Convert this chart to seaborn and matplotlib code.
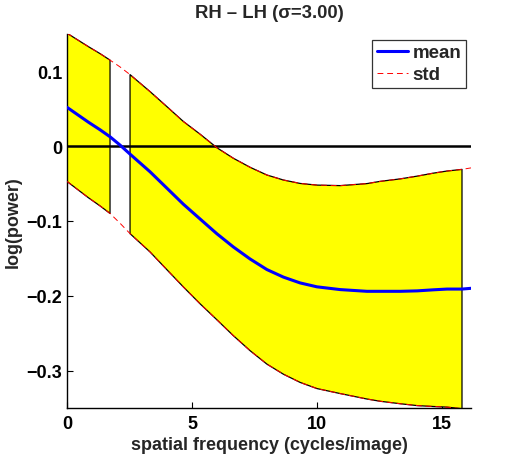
import numpy as np
import pandas as pd
import matplotlib
matplotlib.use("Agg")
import matplotlib.pyplot as plt
import seaborn as sns

# spatial frequency (cycles/image)
freq = [0.0, 0.86, 1.32, 1.72, 2.12, 2.52, 3.32, 3.99, 4.65, 5.32, 5.99, 6.65,
        7.32, 7.99, 8.65, 9.32, 9.99, 10.92, 11.99, 12.52, 13.32, 14.0, 14.65,
        15.19, 15.79, 16.15]
# mean log(power) difference RH - LH
mean = [0.052, 0.032, 0.022, 0.0126, 0.0015, -0.0106, -0.0342, -0.056, -0.0775,
        -0.0973, -0.117, -0.1347, -0.1508, -0.1649, -0.175, -0.1828, -0.188,
        -0.1917, -0.194, -0.194, -0.194, -0.1934, -0.192, -0.191, -0.191, -0.190]
# standard deviation
std = [0.0991, 0.101, 0.1018, 0.1025, 0.1045, 0.1063, 0.1072, 0.109, 0.1106,
       0.1134, 0.115, 0.1186, 0.1226, 0.1264, 0.1298, 0.133, 0.136, 0.139,
       0.144, 0.147, 0.1503, 0.1534, 0.156, 0.1578, 0.160, 0.161]
# where the shaded band is drawn
shaded = [True, True, True, True, False, True, True, True, True, True, True,
          True, True, True, True, True, True, True, True, True, True, True,
          True, True, True, False]

df = pd.DataFrame({"freq": freq, "mean": mean, "std": std, "shaded": shaded})
df["upper"] = df["mean"] + df["std"]
df["lower"] = df["mean"] - df["std"]

sns.set_style("white")
plt.rcParams["font.family"] = ["Liberation Sans", "DejaVu Sans"]
plt.rcParams["font.weight"] = "bold"

fig = plt.figure(figsize=(5.2, 4.6), dpi=100)
ax = fig.add_axes([67 / 520, 1 - 409 / 460, 404 / 520, 374 / 460])

ax.fill_between(df["freq"], df["lower"], df["upper"], where=df["shaded"],
                facecolor="#ffff00", edgecolor="black", linewidth=0.9,
                interpolate=False, zorder=1)
ax.axhline(0, color="black", linewidth=1.8, zorder=2)
sns.lineplot(data=df, x="freq", y="mean", ax=ax, color="#0000ff",
             linewidth=2.2, label="mean", zorder=4)
sns.lineplot(data=df, x="freq", y="upper", ax=ax, color="red",
             linewidth=0.7, linestyle=(0, (6, 4)), label="std", zorder=3)
sns.lineplot(data=df, x="freq", y="lower", ax=ax, color="red",
             linewidth=0.7, linestyle=(0, (6, 4)), zorder=3)

ax.set_xlim(0, 16.15)
ax.set_ylim(-0.35, 0.15)
ax.set_xticks([0, 5, 10, 15])
ax.set_yticks([-0.3, -0.2, -0.1, 0, 0.1])
ax.set_yticklabels(["\u22120.3", "\u22120.2", "\u22120.1", "0", "0.1"])
ax.tick_params(direction="in", length=4, width=0.8, labelsize=13,
               colors="black", left=True, bottom=True)
ax.tick_params(axis="x", pad=5)
for lab in ax.get_xticklabels() + ax.get_yticklabels():
    lab.set_fontweight("bold")
for s in ["top", "right"]:
    ax.spines[s].set_visible(False)
for s in ["left", "bottom"]:
    ax.spines[s].set_color("black")
    ax.spines[s].set_linewidth(1.0)

ax.set_xlabel("spatial frequency (cycles/image)", fontsize=13,
              fontweight="bold", labelpad=3)
ax.set_ylabel("log(power)", fontsize=13, fontweight="bold", labelpad=3)
ax.set_title("RH \u2013 LH (\u03c3=3.00)", fontsize=13.3, fontweight="bold", pad=12)

leg = ax.legend(loc="upper right", bbox_to_anchor=(0.988, 0.985),
                prop={"size": 13.5, "weight": "bold"}, frameon=True,
                fancybox=False, edgecolor="black", handlelength=1.65,
                handletextpad=0.25, borderpad=0.25, labelspacing=0.25,
                borderaxespad=0.0)
leg.get_frame().set_linewidth(0.9)

fig.savefig("out.png", dpi=100)
